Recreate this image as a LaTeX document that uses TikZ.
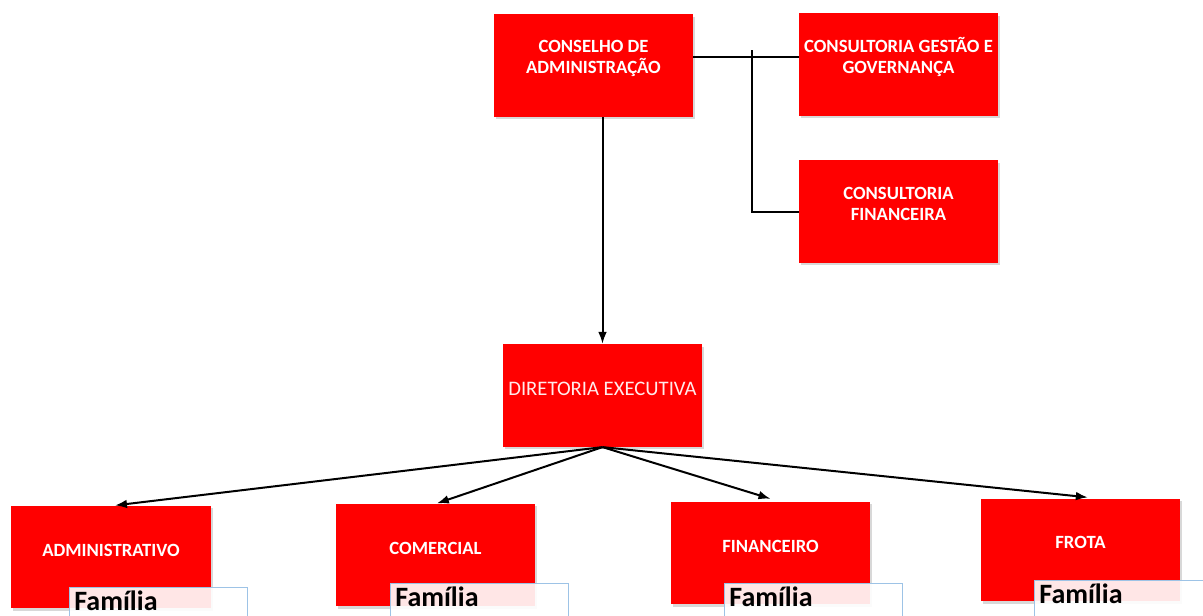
\documentclass[tikz,border=0pt]{standalone}
\usepackage{fontspec}
\setmainfont{Carlito}
\usetikzlibrary{shadows,arrows.meta}
\definecolor{famborder}{HTML}{9DC3E6}
\begin{document}
\begin{tikzpicture}[x=0.75pt,y=-0.75pt,
  unit/.style={fill=red, draw=none, minimum width=149.5pt, minimum height=77pt,
    inner sep=0pt,
    drop shadow={shadow xshift=1.6pt, shadow yshift=-1.8pt, opacity=0.3}},
  utext/.style={text=white, font=\bfseries\fontsize{14}{15.75}\selectfont,
    align=center, yshift=5.3pt, inner sep=0pt},
  dtext/.style={text=white!92!red, font=\fontsize{15.5}{18}\selectfont,
    align=center, yshift=5pt, inner sep=0pt},
  fambox/.style={fill=white, fill opacity=0.9, text opacity=1, draw=famborder,
    line width=0.6pt, anchor=north west, minimum width=133.5pt,
    inner xsep=3.5pt, inner ysep=1pt, text height=16.5pt, text depth=14pt,
    text width=126pt, align=left,
    font=\bfseries\fontsize{21}{24}\selectfont},
  link/.style={line width=1.5pt},
  arr/.style={line width=1.5pt, -{Latex[length=9pt,width=6.5pt]}}
]
\useasboundingbox (0,0) rectangle (1203,615);
\fill[white] (0,0) rectangle (1203,615);
\clip (0,0) rectangle (1203,615);

% board and advisers
\node[unit, label={[utext]center:{CONSELHO DE\\ADMINISTRAÇÃO}}] (cons) at (593.5,65.5) {};
\node[unit, label={[utext]center:{CONSULTORIA GESTÃO E\\GOVERNANÇA}}] (gest) at (898.5,64.5) {};
\node[unit, label={[utext]center:{CONSULTORIA\\FINANCEIRA}}] (cfin) at (898.5,211.5) {};

% executive board
\node[unit, label={[dtext]center:{DIRETORIA EXECUTIVA}}] (dir) at (602.5,395.5) {};

% departments
\node[unit, label={[utext]center:{ADMINISTRATIVO}}] (adm) at (111,557) {};
\node[unit, label={[utext]center:{COMERCIAL}}] (com) at (435.5,555) {};
\node[unit, label={[utext]center:{FINANCEIRO}}] (fin) at (770.5,553) {};
\node[unit, label={[utext]center:{FROTA}}] (fro) at (1080.5,550) {};

% family boxes
\node[fambox] (fam1) at (69,587) {Família};
\node[fambox] (fam2) at (390,583) {Família};
\node[fambox] (fam3) at (724,583) {Família};
\node[fambox] (fam4) at (1034,580) {Família};

% connectors
\coordinate (bus) at (752,50);
\draw[link] ([yshift=6.4pt]cons.east) -- ([yshift=6.4pt]cons.east -| gest.west);
\draw[link] (bus) |- (cfin.west);
\draw[arr] (cons.south -| dir.north) -- (dir.north);
\draw[arr] (dir.south) -- ([xshift=3pt]adm.north);
\draw[arr] (dir.south) -- ([xshift=1pt]com.north);
\draw[arr] (dir.south) -- ([yshift=2pt]fin.north);
\draw[arr] (dir.south) -- ([xshift=5.5pt,yshift=0.8pt]fro.north);
\end{tikzpicture}
\end{document}
